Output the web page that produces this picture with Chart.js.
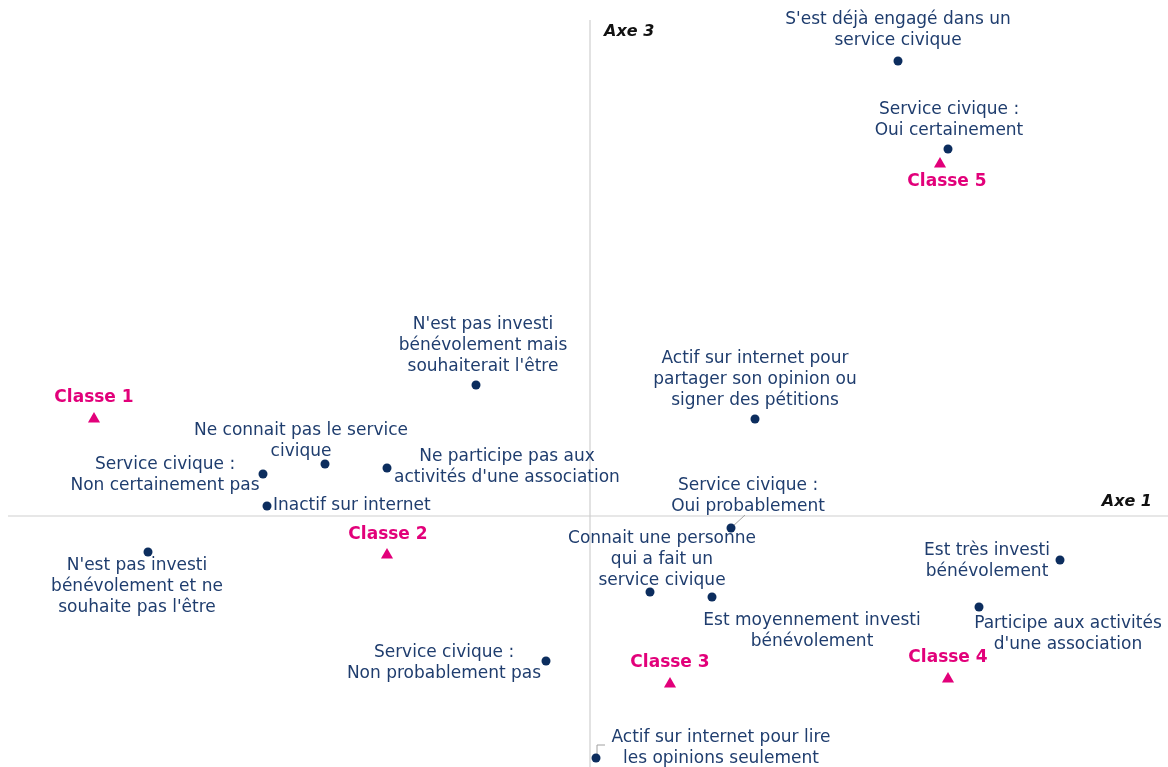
<!DOCTYPE html>
<html lang="fr">
<head>
<meta charset="utf-8">
<script src="https://cdn.jsdelivr.net/npm/chart.js@4.4.1/dist/chart.umd.min.js"></script>
<style>
  html, body { margin: 0; padding: 0; background: #ffffff; }
  #wrap { width: 1168px; height: 767px; position: relative; }
</style>
</head>
<body>
<div id="wrap"><canvas id="carte"></canvas></div>
<script>
// ------------------------------------------
// Données : modalités actives (Axe 1 / Axe 3)
// ------------------------------------------
const modaliteLabels = [
  ["S'est déjà engagé dans un", "service civique"],
  ["Service civique :", "Oui certainement"],
  ["N'est pas investi", "bénévolement mais", "souhaiterait l'être"],
  ["Actif sur internet pour", "partager son opinion ou", "signer des pétitions"],
  ["Ne connait pas le service", "civique"],
  ["Ne participe pas aux", "activités d'une association"],
  ["Service civique :", "Non certainement pas"],
  ["Inactif sur internet"],
  ["N'est pas investi", "bénévolement et ne", "souhaite pas l'être"],
  ["Service civique :", "Oui probablement"],
  ["Connait une personne", "qui a fait un", "service civique"],
  ["Est moyennement investi", "bénévolement"],
  ["Est très investi", "bénévolement"],
  ["Participe aux activités", "d'une association"],
  ["Service civique :", "Non probablement pas"],
  ["Actif sur internet pour lire", "les opinions seulement"]
];
const modaliteAxe1 = [0.616, 0.716, -0.228, 0.330, -0.530, -0.406, -0.654, -0.646, -0.884, 0.282, 0.120, 0.244, 0.940, 0.778, -0.088, 0.012];
const modaliteAxe3 = [0.910, 0.734, 0.262, 0.194, 0.104, 0.096, 0.084, 0.020, -0.072, -0.024, -0.152, -0.162, -0.088, -0.182, -0.290, -0.484];

// Classes (barycentres)
const classeLabels = ['Classe 1', 'Classe 2', 'Classe 3', 'Classe 4', 'Classe 5'];
const classeAxe1 = [-0.992, -0.406, 0.160, 0.716, 0.700];
const classeAxe3 = [0.194, -0.078, -0.336, -0.326, 0.704];

// ------------------------------------------
// Mise en page des étiquettes (décalages en px)
// [dx, dy première ligne, alignement]
// ------------------------------------------
const placementModalites = [
  [0, -43, 'center'], [1, -41, 'center'], [7, -62, 'center'], [0, -62, 'center'],
  [-24, -35, 'center'], [120, -13, 'center'], [-98, -11, 'center'], [6, -2, 'left'],
  [-11, 12, 'center'], [17, -44, 'center'], [12, -55, 'center'], [100, 22, 'center'],
  [-73, -11, 'center'], [89, 15, 'center'], [-102, -10, 'center'], [125, -22, 'center']
];
const placementClasses = [[0, -23], [1, -22], [0, -23], [0, -23], [7, 16]];

const BLEU = '#0c2d5e';
const TEXTE = '#1f3d6e';
const ROSE = '#e2007a';
const POLICE = "'DejaVu Sans', Verdana, sans-serif";
const INTERLIGNE = 21;
const DECALAGE_Y = 2; // correction de la ligne de base du texte

// Axes + étiquettes dessinés à la main
const plugCarte = {
  id: 'plugCarte',
  beforeDatasetsDraw(chart) {
    const { ctx, scales: { x, y }, chartArea } = chart;
    const x0 = x.getPixelForValue(0);
    const y0 = y.getPixelForValue(0);
    ctx.save();
    ctx.strokeStyle = '#cfcfcf';
    ctx.lineWidth = 1.2;
    ctx.beginPath();
    ctx.moveTo(x0, chartArea.top + 20);
    ctx.lineTo(x0, chartArea.bottom);
    ctx.moveTo(chartArea.left + 8, y0);
    ctx.lineTo(chartArea.right, y0);
    ctx.stroke();

    // petits traits de rappel
    ctx.strokeStyle = '#a0a0a0';
    ctx.lineWidth = 1;
    let px = x.getPixelForValue(modaliteAxe1[9]), py = y.getPixelForValue(modaliteAxe3[9]);
    ctx.beginPath();
    ctx.moveTo(px, py);
    ctx.lineTo(px + 14, py - 13);
    px = x.getPixelForValue(modaliteAxe1[15]); py = y.getPixelForValue(modaliteAxe3[15]);
    ctx.moveTo(px + 1, py - 4);
    ctx.lineTo(px + 1, py - 13);
    ctx.lineTo(px + 9, py - 13);
    ctx.stroke();

    ctx.fillStyle = '#111111';
    ctx.font = 'italic bold 16px ' + POLICE;
    ctx.textBaseline = 'middle';
    ctx.textAlign = 'left';
    ctx.fillText('Axe 3', x0 + 14, chartArea.top + 30 + DECALAGE_Y);
    ctx.textAlign = 'right';
    ctx.fillText('Axe 1', chartArea.right - 16, y0 - 16 + DECALAGE_Y);
    ctx.restore();
  },
  afterDatasetsDraw(chart) {
    const { ctx, scales: { x, y } } = chart;
    ctx.save();
    ctx.textBaseline = 'middle';
    ctx.font = '17px ' + POLICE;
    ctx.fillStyle = TEXTE;
    modaliteLabels.forEach((lignes, i) => {
      const [dx, dy, align] = placementModalites[i];
      const px = x.getPixelForValue(modaliteAxe1[i]);
      const py = y.getPixelForValue(modaliteAxe3[i]) + DECALAGE_Y;
      ctx.textAlign = align;
      lignes.forEach((l, k) => ctx.fillText(l, px + dx, py + dy + k * INTERLIGNE));
    });
    ctx.font = 'bold 17px ' + POLICE;
    ctx.fillStyle = ROSE;
    ctx.textAlign = 'center';
    classeLabels.forEach((c, i) => {
      const [dx, dy] = placementClasses[i];
      ctx.fillText(c, x.getPixelForValue(classeAxe1[i]) + dx, y.getPixelForValue(classeAxe3[i]) + dy + DECALAGE_Y);
    });
    ctx.restore();
  }
};

new Chart(document.getElementById('carte'), {
  type: 'scatter',
  data: {
    datasets: [
      {
        label: 'Modalités',
        data: modaliteAxe1.map((v, i) => ({ x: v, y: modaliteAxe3[i] })),
        backgroundColor: BLEU,
        borderColor: BLEU,
        pointRadius: 4.5,
        pointHoverRadius: 4.5,
        borderWidth: 0
      },
      {
        label: 'Classes',
        data: classeAxe1.map((v, i) => ({ x: v, y: classeAxe3[i] })),
        backgroundColor: ROSE,
        borderColor: ROSE,
        pointStyle: 'triangle',
        pointRadius: 7,
        pointHoverRadius: 7,
        borderWidth: 0
      }
    ]
  },
  options: {
    responsive: true,
    maintainAspectRatio: false,
    animation: false,
    layout: { padding: 0, autoPadding: false },
    plugins: { legend: { display: false }, tooltip: { enabled: false } },
    scales: {
      x: { type: 'linear', min: -1.18, max: 1.156, display: false },
      y: { type: 'linear', min: -0.502, max: 1.032, display: false }
    }
  },
  plugins: [plugCarte]
});
</script>
</body>
</html>
